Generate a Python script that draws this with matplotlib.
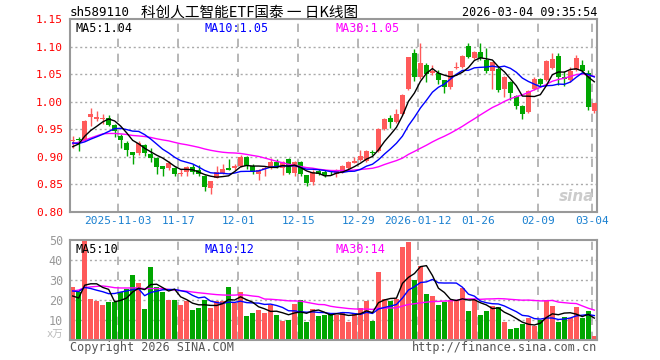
import numpy as np
import pandas as pd
import matplotlib
matplotlib.use("Agg")
import matplotlib.pyplot as plt

plt.rcParams['font.family'] = ['DejaVu Sans Mono', 'Noto Sans CJK SC']

# --- data ---
o = [0.929, 0.933, 0.930, 0.972, 0.969, 0.969, 0.971, 0.957, 0.938, 0.925,
     0.908, 0.906, 0.922, 0.905, 0.898, 0.883, 0.879, 0.880, 0.869, 0.873,
     0.881, 0.875, 0.865, 0.844, 0.862, 0.870, 0.880, 0.879, 0.883, 0.899,
     0.883, 0.868, 0.877, 0.880, 0.890, 0.880, 0.895, 0.871, 0.890, 0.866,
     0.854, 0.874, 0.873, 0.871, 0.868, 0.872, 0.880, 0.889, 0.894, 0.892,
     0.908, 0.911, 0.951, 0.971, 0.964, 0.978, 1.024, 1.088, 1.045, 1.066,
     1.052, 1.053, 1.039, 1.026, 1.061, 1.064, 1.101, 1.079, 1.091, 1.076,
     1.055, 1.059, 1.023, 1.035, 1.010, 0.992, 0.982, 1.024, 1.042, 1.039,
     1.062, 1.083, 1.045, 1.039, 1.058, 1.067, 1.052, 0.983]
h = [0.938, 0.935, 0.967, 0.988, 0.983, 0.978, 0.976, 0.960, 0.941, 0.928,
     0.909, 0.928, 0.924, 0.915, 0.899, 0.884, 0.893, 0.882, 0.877, 0.884,
     0.886, 0.885, 0.866, 0.856, 0.884, 0.886, 0.896, 0.886, 0.903, 0.901,
     0.886, 0.878, 0.883, 0.897, 0.896, 0.893, 0.897, 0.892, 0.892, 0.867,
     0.875, 0.877, 0.876, 0.874, 0.877, 0.885, 0.893, 0.899, 0.912, 0.913,
     0.913, 0.952, 0.970, 0.976, 0.986, 1.014, 1.082, 1.095, 1.106, 1.070,
     1.067, 1.058, 1.040, 1.056, 1.072, 1.085, 1.106, 1.093, 1.106, 1.097,
     1.073, 1.064, 1.046, 1.037, 1.012, 0.994, 1.021, 1.045, 1.044, 1.075,
     1.089, 1.089, 1.055, 1.064, 1.085, 1.076, 1.058, 0.998]
l = [0.915, 0.910, 0.928, 0.956, 0.965, 0.960, 0.956, 0.935, 0.916, 0.902,
     0.886, 0.904, 0.901, 0.890, 0.868, 0.865, 0.876, 0.865, 0.865, 0.865,
     0.868, 0.865, 0.838, 0.832, 0.861, 0.868, 0.875, 0.875, 0.881, 0.878,
     0.868, 0.858, 0.865, 0.877, 0.880, 0.866, 0.868, 0.865, 0.865, 0.847,
     0.848, 0.866, 0.863, 0.866, 0.864, 0.870, 0.878, 0.888, 0.893, 0.890,
     0.903, 0.909, 0.948, 0.953, 0.962, 0.976, 1.022, 1.038, 1.042, 1.035,
     1.049, 1.033, 1.016, 1.024, 1.059, 1.062, 1.080, 1.077, 1.076, 1.052,
     1.024, 1.018, 1.008, 1.003, 0.986, 0.968, 0.980, 1.022, 1.029, 1.037,
     1.060, 1.030, 1.029, 1.036, 1.056, 1.053, 0.985, 0.980]
c = [0.931, 0.930, 0.965, 0.977, 0.973, 0.971, 0.957, 0.947, 0.930, 0.912,
     0.903, 0.925, 0.907, 0.898, 0.881, 0.877, 0.889, 0.868, 0.870, 0.881,
     0.873, 0.869, 0.845, 0.855, 0.872, 0.878, 0.876, 0.883, 0.899, 0.884,
     0.873, 0.876, 0.880, 0.890, 0.883, 0.890, 0.871, 0.890, 0.868, 0.852,
     0.872, 0.868, 0.866, 0.870, 0.874, 0.883, 0.890, 0.893, 0.901, 0.911,
     0.907, 0.950, 0.969, 0.964, 0.977, 1.012, 1.081, 1.045, 1.070, 1.050,
     1.055, 1.040, 1.026, 1.055, 1.064, 1.083, 1.082, 1.091, 1.079, 1.055,
     1.072, 1.021, 1.045, 1.015, 0.992, 0.978, 1.020, 1.042, 1.032, 1.074,
     1.077, 1.045, 1.041, 1.056, 1.080, 1.056, 0.991, 0.998]
vol = [26.5, 24, 50, 20.5, 19.5, 17.5, 19, 19, 24, 25.5,
       32.5, 28.5, 15.5, 36.5, 26.5, 24, 20, 20, 17.5, 19.5,
       15, 16, 20, 16, 19.3, 19.5, 26.5, 18.6, 24, 12,
       13.5, 15, 13.5, 17.5, 12.5, 9.6, 10, 18, 20, 9.2,
       15.5, 12.2, 12.5, 13, 12.5, 14.2, 9.2, 13.7, 16, 19.7,
       9.7, 34.2, 20.5, 19.7, 20.5, 46.7, 49.2, 30, 37, 23,
       22, 17.5, 19.2, 20, 20, 26.2, 14.5, 20, 12.5, 14.5,
       17, 16.3, 9.2, 5.5, 5.8, 7.8, 11.2, 7.2, 10, 20,
       17, 9, 11.3, 10.8, 16.5, 11, 14.5, 2]

# closes / volumes before the visible window (only feed the moving averages)
prior_close = [0.848, 0.852, 0.855, 0.858, 0.862,
               0.935, 0.948, 0.952, 0.944, 0.958, 0.950, 0.940, 0.946, 0.955, 0.938,
               0.942, 0.950, 0.945, 0.936, 0.941,
               0.940, 0.935, 0.928, 0.930, 0.926,
               0.905, 0.895, 0.925, 0.935]
prior_vol = [10, 12, 11, 12, 11,
             30, 34, 28, 26, 31, 29, 27, 33, 28, 26, 30, 29, 27, 28, 28,
             27, 29, 26, 28, 25,
             29, 18, 17, 19.5]

date_pos = [8, 18, 28, 38, 48, 58, 68, 78, 87]
date_lbl = ['2025-11-03', '11-17', '12-01', '12-15', '12-29', '2026-01-12',
            '01-26', '02-09', '03-04']

RED = '#ff5a5a'
GREEN = '#00a600'
GRID = '#aaaaaa'

o, h, l, c, vol = map(np.array, (o, h, l, c, vol))
n = len(c)
x = np.arange(n)
up = c >= o
cols = np.where(up, RED, GREEN)

allc = pd.Series(prior_close + list(c))
allv = pd.Series(prior_vol + list(vol))
ma = {k: allc.rolling(k, min_periods=1).mean().values[-n:] for k in (5, 10, 30)}
vma = {k: allv.rolling(k, min_periods=1).mean().values[-n:] for k in (5, 10, 30)}

fig = plt.figure(figsize=(6.6, 3.6), dpi=100)
ax = fig.add_axes([70 / 660, 1 - 211.7 / 360, 527.3 / 660, 192.5 / 360])
axv = fig.add_axes([70 / 660, 1 - 340 / 360, 527.3 / 660, 100 / 360])

for a in (ax, axv):
    for s in a.spines.values():
        s.set_color('#999999')
        s.set_linewidth(1.5)
    a.set_xlim(-0.45, n - 0.5)
    for p in date_pos:
        a.axvline(p - 0.4, color=GRID, lw=1.2, dashes=(5, 4), zorder=0)
    a.tick_params(length=0)

# price panel
ax.set_ylim(0.80, 1.15)
yt = np.arange(0.80, 1.151, 0.05)
ax.set_yticks(yt)
ax.set_yticklabels(['%.2f' % v for v in yt], color='red', fontsize=8)
for v in yt[1:-1]:
    ax.axhline(v, color=GRID, lw=1, dashes=(1.5, 2), zorder=0)
ax.vlines(x, l, h, colors=cols, lw=1, zorder=2)
ax.bar(x, np.maximum(np.abs(c - o), 0.0012), bottom=np.minimum(o, c),
       width=0.75, color=cols, lw=0, zorder=3)
ax.plot(x, ma[30], color='#ff00ff', lw=1, zorder=4)
ax.plot(x, ma[10], color='#0000ff', lw=1, zorder=4)
ax.plot(x, ma[5], color='black', lw=1, zorder=5)
ax.set_xticks(np.array(date_pos) - 0.4)
ax.set_xticklabels(date_lbl, color='#1a80d0', fontsize=8)
ax.tick_params(axis='x', pad=3)
ax.tick_params(axis='y', pad=5)
ax.text(0.01, 0.985, 'MA5:1.04', transform=ax.transAxes, va='top', fontsize=8.5, color='black')
ax.text(0.256, 0.985, 'MA10:1.05', transform=ax.transAxes, va='top', fontsize=8.5, color='#0000ff')
ax.text(0.503, 0.985, 'MA30:1.05', transform=ax.transAxes, va='top', fontsize=8.5, color='#ff00ff')
ax.text(0.995, 0.04, 'sina', transform=ax.transAxes, ha='right', va='bottom',
        fontsize=11, color='#cccccc', style='italic', fontweight='bold',
        family='DejaVu Sans')

# volume panel
axv.set_ylim(0, 50)
axv.set_yticks([10, 20, 30, 40, 50])
axv.set_yticklabels(['10', '20', '30', '40', '50'], color='#999999', fontsize=8.5)
axv.tick_params(axis='y', pad=5)
for v in (10, 20, 30, 40):
    axv.axhline(v, color=GRID, lw=1, dashes=(1.5, 2), zorder=0)
axv.bar(x, vol, width=0.75, color=cols, lw=0, zorder=2)
axv.plot(x, vma[30], color='#ff00ff', lw=1, zorder=3)
axv.plot(x, vma[10], color='#0000ff', lw=1, zorder=3)
axv.plot(x, vma[5], color='black', lw=1, zorder=4)
axv.set_xticks([])
axv.text(0.01, 0.97, 'MA5:10', transform=axv.transAxes, va='top', fontsize=8.5, color='black')
axv.text(0.256, 0.97, 'MA10:12', transform=axv.transAxes, va='top', fontsize=8.5, color='#0000ff')
axv.text(0.503, 0.97, 'MA30:14', transform=axv.transAxes, va='top', fontsize=8.5, color='#ff00ff')
axv.text(-0.012, 0.0, 'x万', transform=axv.transAxes, ha='right', va='bottom',
         fontsize=7.5, color='#bbbbbb')

# header / footer
fig.text(70 / 660, 1 - 13 / 360, 'sh589110', va='center', fontsize=9)
fig.text(250 / 660, 1 - 13 / 360, '科创人工智能ETF国泰 一 日K线图', ha='center', va='center',
         fontsize=10.5, family=['Noto Sans CJK SC', 'DejaVu Sans'])
fig.text(597 / 660, 1 - 13 / 360, '2026-03-04 09:35:54', ha='right', va='center', fontsize=8.5)
fig.text(70 / 660, 1 - 347 / 360, 'Copyright 2026 SINA.COM', va='center', fontsize=8.5,
         color='#555555')
fig.text(597 / 660, 1 - 347 / 360, 'http://finance.sina.com.cn', ha='right', va='center',
         fontsize=8.5, color='#555555')

fig.savefig('out.png', dpi=100)
